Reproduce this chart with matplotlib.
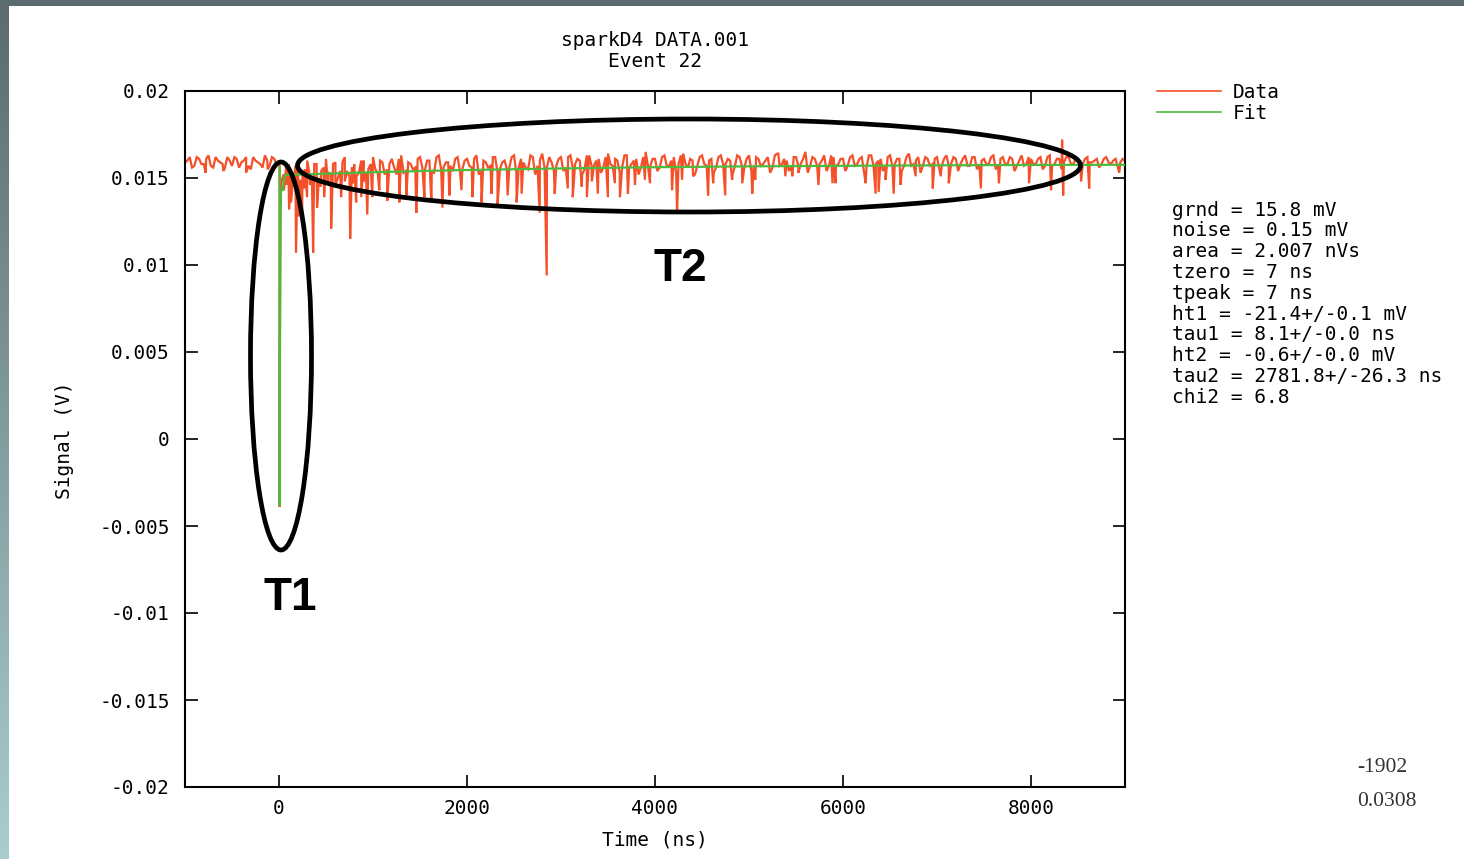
import numpy as np
import matplotlib
matplotlib.use("Agg")
import matplotlib.pyplot as plt
from matplotlib.patches import Ellipse

plt.rcParams['axes.unicode_minus'] = False

# ---------------- data ----------------
# baseline noise of the data trace, mV, every 50 ns from -1000 ns to 9000 ns
noise_t0 = -1000
noise_dt = 50
noise_mv = [
    15.9, 16.2, 15.7, 16.1, 15.8, 16.3, 15.6, 16.0, 15.8, 16.2,
    15.7, 16.1, 15.9, 16.2, 15.5, 16.0, 15.8, 16.3, 15.7, 16.1,
    15.9, 15.2, 15.8, 15.0, 15.9, 15.3, 16.0, 15.1, 15.8, 15.4,
    16.1, 15.2, 15.9, 15.4, 16.2, 15.1, 15.8, 15.3, 16.0, 15.5,
    16.2, 15.3, 15.9, 15.5, 16.1, 15.2, 16.3, 15.4, 15.8, 15.6,
    16.2, 15.4, 16.0, 15.3, 16.3, 15.6, 15.9, 15.4, 16.2, 15.5,
    16.1, 15.6, 16.3, 15.4, 15.9, 15.7, 16.2, 15.5, 16.0, 15.6,
    16.3, 15.6, 15.9, 15.5, 16.2, 15.7, 16.4, 15.6, 15.9, 15.7,
    16.2, 15.6, 16.3, 15.8, 16.0, 15.5, 16.3, 15.7, 16.1, 15.6,
    16.4, 15.7, 16.0, 15.6, 16.3, 15.8, 16.1, 15.6, 16.5, 15.7,
    16.1, 15.6, 16.3, 15.7, 16.2, 15.8, 16.4, 15.6, 16.0, 15.7,
    16.3, 15.7, 16.1, 15.6, 16.3, 15.8, 16.0, 15.7, 16.2, 15.6,
    16.3, 15.7, 16.1, 15.8, 16.2, 15.6, 16.4, 15.8, 16.0, 15.7,
    16.2, 15.8, 16.5, 15.7, 16.1, 15.8, 16.3, 15.7, 16.2, 15.8,
    16.1, 15.7, 16.3, 15.8, 16.2, 15.6, 16.3, 15.8, 16.1, 15.7,
    16.3, 15.8, 16.1, 15.7, 16.4, 15.8, 16.2, 15.7, 16.1, 15.8,
    16.2, 15.7, 16.3, 15.8, 16.1, 15.8, 16.3, 15.7, 16.2, 15.8,
    16.1, 15.8, 16.3, 15.7, 16.2, 15.8, 16.1, 15.7, 16.3, 15.8,
    16.1, 15.8, 16.2, 15.7, 16.3, 15.8, 16.1, 15.9, 16.2, 15.8,
    16.1, 15.8, 16.2, 15.9, 16.1, 15.8, 16.2, 15.8, 16.1, 15.9,
    16.0,
]
# samples halfway between those above (t = -975, -925, ... 8975 ns), mV
noise_mid_mv = [
    16.0, 15.6, 16.2, 15.8, 16.1, 15.7, 16.2, 15.9, 15.6, 16.0,
    16.2, 15.6, 16.0, 15.7, 16.2, 15.9, 15.6, 16.0, 16.2, 15.8,
    14.8, 15.6, 15.1, 15.7, 14.9, 15.5, 15.2, 15.8, 15.0, 15.6,
    15.3, 15.8, 15.0, 15.9, 15.4, 15.6, 15.1, 16.0, 15.3, 15.8,
    15.5, 16.0, 15.2, 15.8, 15.6, 16.1, 15.3, 15.9, 15.5, 16.1,
    15.6, 16.0, 15.3, 16.2, 15.5, 15.9, 15.7, 16.1, 15.4, 16.0,
    15.7, 16.1, 15.2, 16.0, 15.6, 16.2, 15.3, 15.9, 15.5, 16.2,
    15.3, 16.1, 15.6, 16.3, 15.2, 16.0, 15.6, 16.2, 15.4, 16.1,
    15.4, 16.2, 15.6, 16.1, 15.2, 16.3, 15.7, 16.0, 15.3, 16.2,
    15.8, 16.1, 15.3, 16.3, 15.6, 16.0, 15.2, 16.2, 15.7, 16.1,
    15.4, 16.2, 15.7, 16.0, 15.3, 16.3, 15.8, 16.1, 15.2, 16.2,
    15.8, 16.0, 15.3, 16.2, 15.8, 16.1, 15.2, 16.3, 15.7, 16.1,
    15.4, 16.2, 15.7, 16.0, 15.3, 16.3, 15.7, 16.1, 15.4, 16.2,
    15.7, 16.1, 15.3, 16.2, 15.7, 16.0, 15.4, 16.3, 15.7, 16.1,
    15.4, 16.2, 15.7, 16.1, 15.3, 16.3, 15.7, 16.0, 15.4, 16.2,
    15.7, 16.1, 15.4, 16.2, 15.7, 16.0, 15.3, 16.2, 15.7, 16.1,
    15.5, 16.1, 15.7, 16.2, 15.4, 16.1, 15.7, 16.2, 15.5, 16.0,
    15.8, 16.2, 15.5, 16.1, 15.8, 16.2, 15.4, 16.0, 15.7, 16.2,
    15.8, 16.1, 15.5, 16.2, 15.7, 16.1, 15.5, 16.2, 15.8, 16.1,
    15.8, 16.1, 15.9, 16.0, 15.6, 16.1, 15.9, 16.0, 15.6, 16.1,
]

# the fast pulse at tzero (ns, mV)
pulse_t = [6, 7, 9, 10, 12, 20, 30]
pulse_mv = [15.8, -3.9, 2.8, 4.3, 13.0, 14.6, 14.9]

# single-sample spikes, mostly downward (ns, mV)
spike_t = [
    -780, -590, -350, -120,
    53, 80, 107, 128, 150, 181, 213, 245, 270, 299, 330, 363, 405, 440,
    480, 520, 555, 600, 661, 700, 757, 790, 821, 875, 900, 939, 992,
    1067, 1152, 1280, 1355, 1461, 1547, 1621, 1739, 1813, 1941, 2059,
    2155, 2261, 2325, 2432, 2528, 2581, 2773, 2848, 2933,
    3072, 3125, 3221, 3275, 3328, 3392, 3499, 3573, 3627, 3712, 3787,
    3893, 3947, 4181, 4235, 4288, 4405, 4565, 4619, 4747, 4821, 4928,
    5035, 5067, 5312, 5387, 5461, 5525, 5739, 5888, 5920, 6240, 6347,
    6379, 6453, 6539, 6613, 6773, 6955, 7040, 7125, 7467, 7659, 7979,
    8213, 8331, 8342, 8533, 8619, 8939,
]
spike_mv = [
    15.3, 15.4, 15.3, 15.5,
    14.3, 14.6, 13.2, 13.6, 14.5, 10.7, 12.8, 12.4, 14.4, 13.9, 14.6, 10.7, 13.3, 14.5,
    13.9, 14.7, 12.1, 14.6, 13.9, 14.8, 11.5, 14.7, 13.6, 13.9, 14.8, 12.9, 13.9,
    14.3, 13.7, 13.6, 14.0, 13.0, 13.9, 13.6, 13.3, 14.0, 14.3, 13.9,
    13.6, 14.1, 13.4, 14.0, 13.6, 14.1, 13.0, 9.4, 14.1,
    14.4, 13.9, 14.5, 13.9, 14.8, 14.1, 13.9, 14.7, 13.9, 14.1, 14.6,
    14.9, 14.7, 14.3, 13.0, 14.9, 15.1, 14.0, 14.7, 14.0, 14.9, 14.7,
    14.1, 14.9, 16.4, 15.1, 15.1, 15.3, 14.6, 14.7, 14.7, 14.7, 14.1,
    14.2, 14.9, 14.1, 14.6, 15.1, 14.4, 15.1, 14.7, 14.4, 14.7, 14.7,
    14.3, 17.2, 14.0, 14.8, 14.4, 15.3,
]

# fit curve (ns, mV)
fit_t = [7, 7.5, 9, 20, 40, 60, 500, 1000, 1500, 2000, 3000, 4000, 5000,
         6000, 7000, 8000, 9000]
fit_mv = [15.6, -3.8, 4.2, 14.3, 14.3, 15.17, 15.25, 15.33, 15.40, 15.46,
          15.55, 15.62, 15.67, 15.70, 15.73, 15.75, 15.76]

x_ticks = [0, 2000, 4000, 6000, 8000]
x_ticklabels = ["0", "2000", "4000", "6000", "8000"]
y_ticks = [0.02, 0.015, 0.01, 0.005, 0, -0.005, -0.01, -0.015, -0.02]
y_ticklabels = ["0.02", "0.015", "0.01", "0.005", "0", "-0.005", "-0.01",
                "-0.015", "-0.02"]

stats_lines = [
    "grnd = 15.8 mV",
    "noise = 0.15 mV",
    "area = 2.007 nVs",
    "tzero = 7 ns",
    "tpeak = 7 ns",
    "ht1 = -21.4+/-0.1 mV",
    "tau1 = 8.1+/-0.0 ns",
    "ht2 = -0.6+/-0.0 mV",
    "tau2 = 2781.8+/-26.3 ns",
    "chi2 = 6.8",
]
corner_numbers = ["-1902", "0.0308"]

# ---------------- build the trace ----------------
noise_t = [noise_t0 + i * noise_dt for i in range(len(noise_mv))]
noise_mid_t = [noise_t0 + noise_dt / 2 + i * noise_dt
               for i in range(len(noise_mid_mv))]
all_t = np.array(noise_t + noise_mid_t + pulse_t + spike_t, dtype=float)
all_mv = np.array(noise_mv + noise_mid_mv + pulse_mv + spike_mv, dtype=float)
order = np.argsort(all_t, kind="stable")
data_t = all_t[order]
data_v = all_mv[order] / 1000.0
fit_v = np.array(fit_mv) / 1000.0

# ---------------- figure ----------------
W, H = 1464, 859
fig = plt.figure(figsize=(W / 100, H / 100), dpi=100)
fig.patch.set_facecolor("white")

MONO = "DejaVu Sans Mono"
FS = 14

ax = fig.add_axes([185 / W, (H - 787) / H, 940 / W, 696 / H])
ax.plot(data_t, data_v, color="#f4502a", lw=1.6, label="Data", zorder=2,
        solid_joinstyle="miter")
ax.plot(fit_t, fit_v, color="#4cbb3c", lw=1.6, label="Fit", zorder=3)
ax.set_xlim(-1000, 9000)
ax.set_ylim(-0.02, 0.02)
ax.set_xticks(x_ticks)
ax.set_xticklabels(x_ticklabels, fontfamily=MONO, fontsize=FS)
ax.set_yticks(y_ticks)
ax.set_yticklabels(y_ticklabels, fontfamily=MONO, fontsize=FS)
ax.tick_params(direction="in", length=9, width=1.2, top=True, right=True,
               colors="black")
ax.tick_params(axis="y", pad=11)
ax.tick_params(axis="x", pad=9)
for s in ax.spines.values():
    s.set_linewidth(1.5)
ax.set_xlabel("Time (ns)", fontfamily=MONO, fontsize=FS)
ax.xaxis.set_label_coords(0.5, -0.062)
ax.set_ylabel("Signal (V)", fontfamily=MONO, fontsize=FS)
ax.yaxis.set_label_coords(-0.118, 0.4986)
ax.set_title("sparkD4 DATA.001\nEvent 22", fontfamily=MONO, fontsize=FS,
             pad=17, linespacing=1.15)

leg = ax.legend(loc="upper left", bbox_to_anchor=(1157 / W, 1 - 83 / H),
                bbox_transform=fig.transFigure, frameon=False, borderpad=0,
                borderaxespad=0, handlelength=3.3, handletextpad=0.6,
                labelspacing=0.1, prop={"family": MONO, "size": FS})
for h in leg.legend_handles:
    h.set_linewidth(1.2)

# ---------------- overlay in pixel coordinates ----------------
ov = fig.add_axes([0, 0, 1, 1], zorder=10)
ov.set_xlim(0, W)
ov.set_ylim(H, 0)
ov.axis("off")
ov.patch.set_alpha(0)

# slide frame: dark top bar and gradient strip on the left
top_c = np.array([0x5b, 0x6b, 0x6f]) / 255
bot_c = np.array([0xa9, 0xcd, 0xcd]) / 255
grad = np.linspace(0, 1, 256)[:, None, None]
strip = top_c * (1 - grad) + bot_c * grad
ov.imshow(strip, extent=[0, 9, H, 0], aspect="auto", zorder=1)
ov.add_patch(plt.Rectangle((0, 0), W, 6, color="#5b6b6f", lw=0, zorder=1))

for i, line in enumerate(stats_lines):
    ov.text(1172, 210 + i * 20.8, line, fontfamily=MONO, fontsize=FS,
            ha="left", va="center", color="black")

ov.text(1357, 768, corner_numbers[0], fontfamily="Liberation Serif",
        fontsize=15.5, ha="left", va="center", color="#333333")
ov.text(1357, 801, corner_numbers[1], fontfamily="Liberation Serif",
        fontsize=15.5, ha="left", va="center", color="#333333")

# annotations
ov.add_patch(Ellipse((281, 356), 61, 388, fill=False, ec="black", lw=3.4,
                     zorder=5))
ov.add_patch(Ellipse((689, 165.5), 783, 93, fill=False,
                     ec="black", lw=3.4, zorder=5))
ov.text(290, 598, "T1", fontfamily="Liberation Sans", fontweight="bold",
        fontsize=33, ha="center", va="center", color="black")
ov.text(680, 269, "T2", fontfamily="Liberation Sans", fontweight="bold",
        fontsize=33, ha="center", va="center", color="black")

fig.savefig("out.png", dpi=100)
